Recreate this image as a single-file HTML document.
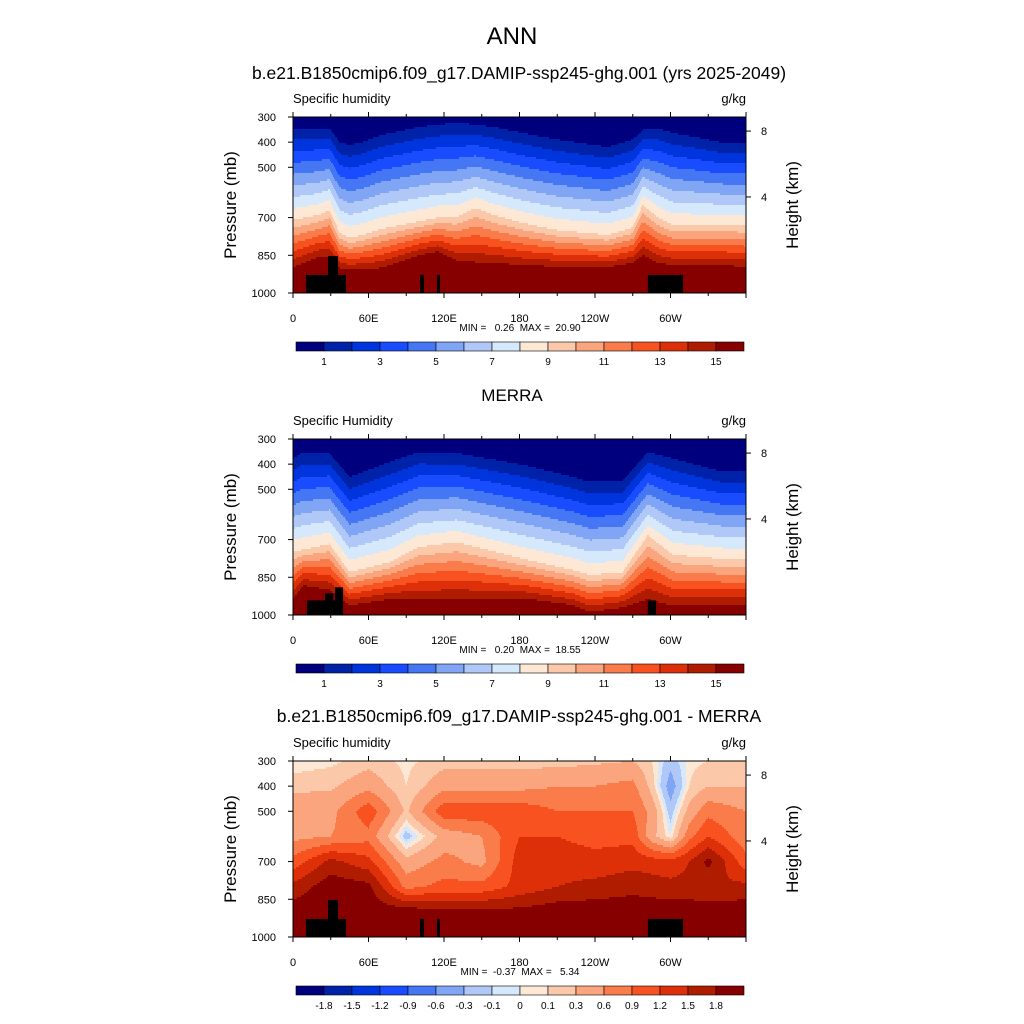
<!DOCTYPE html>
<html><head><meta charset="utf-8"><style>
html,body{margin:0;padding:0;background:#fff}
svg{display:block;font-family:"Liberation Sans",Arial,sans-serif}
</style></head><body>
<svg id="chart" width="1024" height="1024" viewBox="0 0 1024 1024">
<text x="512" y="44" text-anchor="middle" font-size="24">ANN</text>
<text x="519" y="79" text-anchor="middle" font-size="17.5">b.e21.B1850cmip6.f09_g17.DAMIP-ssp245-ghg.001 (yrs 2025-2049)</text>
<text x="512" y="401" text-anchor="middle" font-size="17">MERRA</text>
<text x="519" y="722" text-anchor="middle" font-size="17.5">b.e21.B1850cmip6.f09_g17.DAMIP-ssp245-ghg.001 - MERRA</text>
</svg>
<script>
// ---- data ----
const palette = ['#00007f','#0022a8','#0034dc','#1a4cff','#4577f5','#80a5f5','#b0c8f8','#d6e8fb','#fde8d6','#fcc8aa','#fba57e','#fa7c4a','#f85220','#de3008','#b01c00','#860000'];
const levelsQ = [1,2,3,4,5,6,7,8,9,10,11,12,13,14,15];
const levelsD = [-1.8,-1.5,-1.2,-0.9,-0.6,-0.3,-0.1,0,0.1,0.3,0.6,0.9,1.2,1.5,1.8];
const cbLabelsQ = ['','1','','3','','5','','7','','9','','11','','13','','15',''];
const cbLabelsD = ['-1.8','-1.5','-1.2','-0.9','-0.6','-0.3','-0.1','0','0.1','0.3','0.6','0.9','1.2','1.5','1.8'];
const xTickLons = [0,60,120,180,240,300];
const xTickLabels = ['0','60E','120E','180','120W','60W'];
const yTickP = [300,400,500,700,850,1000];
const heightTicks = [8,4];
const heightTickP = [356,618];

// panel 1 (model) contour anchors: pressure of q=1, q=9, q=15 contours
const lon1 = [0,20,29,37,45,55,70,100,115,130,145,160,183,210,250,270,278,290,302,320,342,360];
const p1_1 = [344,344,344,400,411,400,372,340,330,324,330,340,364,390,419,390,352,345,364,380,403,403];
const p9_1 = [710,690,670,760,781,770,745,715,700,698,662,690,722,750,769,740,650,700,730,730,730,730];
const p15_1 = [897,857,857,900,908,905,900,850,835,870,877,880,889,895,897,880,849,880,889,889,889,897];
const topo1 = [[10.3,42.1,928],[27.8,35.8,853],[100.9,104.1,928],[114.4,116.8,928],[282,310,928]];

// panel 2 (MERRA)
const lon2 = [0,8,29,45,77,100,130,183,222,236,262,282,302,342,360];
const p1_2 = [378,352,357,451,391,352,356,403,450,471,466,352,378,431,431];
const p9_2 = [749,740,717,829,789,730,710,777,820,841,829,683,761,777,777];
const p15_2 = [937,882,900,961,937,937,937,933,960,988,970,937,964,961,961];
const topo2 = [[11,39,942],[25.5,31.9,914],[33.4,39.8,890],[282,288.5,942],[282,284.5,975]];

// panel 3 (difference) grid
const lon3 = [0,30,60,90,120,150,180,210,240,270,285,300,315,330,360];
const pRows3 = [300,400,500,600,700,800,900,1000];
const diffCols = [
 [0.0,0.2,0.6,0.5,1.0,1.6,2.0,2.0],
 [0.05,0.25,0.5,0.6,1.6,2.0,2.0,2.0],
 [0.2,0.5,1.1,0.8,1.3,1.9,2.0,2.0],
 [0.05,0.1,0.25,-0.2,0.4,0.8,2.0,2.0],
 [0.2,0.5,1.1,0.4,0.7,1.0,1.9,2.0],
 [0.2,0.5,1.1,0.6,0.5,1.0,1.9,2.0],
 [0.2,0.5,1.1,1.2,1.35,1.3,1.9,2.0],
 [0.2,0.6,0.9,1.2,1.35,1.5,2.0,2.0],
 [0.25,0.6,0.9,1.1,1.3,1.6,2.0,2.0],
 [0.3,0.7,0.9,1.1,1.4,1.7,2.0,2.0],
 [0.1,0.2,0.5,0.4,1.35,1.65,2.0,2.0],
 [-0.2,-0.45,-0.2,0.0,1.3,1.6,2.0,2.0],
 [0.05,0.1,0.4,0.8,1.5,1.6,2.0,2.0],
 [0.1,0.3,0.8,1.2,1.9,1.5,2.0,2.0],
 [0.1,0.3,0.6,0.7,1.0,1.6,2.0,2.0]
];
const topo3 = topo1;

const panels = [
 {id:'panel1', top:117, kind:'q', lons:lon1, a:p1_1, b:p9_1, c:p15_1, topo:topo1, minmax:'MIN =   0.26  MAX =  20.90', cb:cbLabelsQ, levels:levelsQ},
 {id:'panel2', top:439, kind:'q', lons:lon2, a:p1_2, b:p9_2, c:p15_2, topo:topo2, minmax:'MIN =   0.20  MAX =  18.55', cb:cbLabelsQ, levels:levelsQ},
 {id:'panel3', top:761, kind:'d', topo:topo3, minmax:'MIN =  -0.37  MAX =   5.34', cb:cbLabelsD, levels:levelsD}
];

// ---- helpers ----
const NS='http://www.w3.org/2000/svg';
const svg=document.getElementById('chart');
const X0=293, X1=746, H=176;
function xOf(lon){return X0+lon/360*(X1-X0);}
function yOf(p,top){return top+(p-300)/700*H;}
function interp(xs,ys,x){
  if(x<=xs[0])return ys[0];
  for(let i=1;i<xs.length;i++){ if(x<=xs[i]){const t=(x-xs[i-1])/(xs[i]-xs[i-1]);return ys[i-1]+t*(ys[i]-ys[i-1]);} }
  return ys[ys.length-1];
}
function mk(tag,attrs,parent){const e=document.createElementNS(NS,tag);for(const k in attrs)e.setAttribute(k,attrs[k]);(parent||svg).appendChild(e);return e;}
function levelIndex(v,levels){let k=0;for(const l of levels){if(v>=l)k++;}return k;}
function qValue(P,lon,p){
  const a=interp(P.lons,P.a,lon), b=interp(P.lons,P.b,lon), c=interp(P.lons,P.c,lon);
  if(p<a) return (p-300)/Math.max(a-300,1);
  if(p<b) return 1+8*(p-a)/(b-a);
  if(p<c) return 9+6*(p-b)/(c-b);
  return 15+(p-c)/20;
}
function dValue(lon,p){
  const col=diffCols.map(c=>interp(pRows3,c,p));
  return interp(lon3,col,lon);
}

panels.forEach((P,pi)=>{
  const g=mk('g',{});
  
  
  const rowH=2, colW=1;
  for(let y=P.top;y<P.top+H;y+=rowH){
    const p=300+(y+rowH/2-P.top)/H*700;
    let runStart=X0, runIdx=-1;
    for(let x=X0;x<=X1;x+=colW){
      let idx=-1;
      if(x<X1){
        const lon=(x+0.5-X0)/(X1-X0)*360;
        const v = P.kind==='q'? qValue(P,lon,p) : dValue(lon,p);
        idx=levelIndex(v,P.levels);
      }
      if(idx!==runIdx){
        if(runIdx>=0){
          const r=mk('rect',{x:runStart,y:y,width:x-runStart+0.4,height:rowH+0.4,fill:palette[runIdx]},g);
          
          
        }
        runStart=x; runIdx=idx;
      }
    }
  }
  P.topo.forEach(t=>{
    const r=mk('rect',{x:xOf(t[0]),y:yOf(t[2],P.top),width:xOf(t[1])-xOf(t[0]),height:P.top+H-yOf(t[2],P.top),fill:'#000'});
    
    
  });
  const fr=mk('rect',{x:X0,y:P.top,width:X1-X0,height:H,fill:'none',stroke:'#000','stroke-width':1});
  
  
  for(let lon=0;lon<=360;lon+=30){
    const x=xOf(lon), len=(lon%60===0)?5:3;
    mk('line',{x1:x,x2:x,y1:P.top+H,y2:P.top+H+len,stroke:'#000'});
    mk('line',{x1:x,x2:x,y1:P.top,y2:P.top-len,stroke:'#000'});
  }
  xTickLons.forEach((lon,i)=>{
    const t=mk('text',{x:xOf(lon),y:P.top+H+29,'text-anchor':'middle','font-size':11});
    t.textContent=xTickLabels[i];
    
    
  });
  yTickP.forEach(p=>{
    const y=yOf(p,P.top);
    mk('line',{x1:X0,x2:X0-5,y1:y,y2:y,stroke:'#000'});
    const t=mk('text',{x:276,y:y+4,'text-anchor':'end','font-size':11});
    t.textContent=String(p);
    
    
  });
  heightTicks.forEach((h,i)=>{
    const y=yOf(heightTickP[i],P.top);
    mk('line',{x1:X1,x2:X1+5,y1:y,y2:y,stroke:'#000'});
    const t=mk('text',{x:764,y:y+4,'text-anchor':'middle','font-size':11});
    t.textContent=String(h);
    
    
  });
  const yl=mk('text',{x:0,y:0,'text-anchor':'middle','font-size':17,transform:`translate(236,${P.top+88}) rotate(-90)`});
  yl.textContent='Pressure (mb)';
  
  
  const yr=mk('text',{x:0,y:0,'text-anchor':'middle','font-size':17,transform:`translate(798,${P.top+88}) rotate(-90)`});
  yr.textContent='Height (km)';
  
  
  const lt=mk('text',{x:293,y:P.top-14,'font-size':13});
  lt.textContent= pi===1?'Specific Humidity':'Specific humidity';
  
  
  const ut=mk('text',{x:746,y:P.top-14,'font-size':13,'text-anchor':'end'});
  ut.textContent='g/kg';
  
  
  const mm=mk('text',{x:520,y:P.top+H+38,'text-anchor':'middle','font-size':10});
  mm.setAttribute('style','white-space:pre');
  mm.textContent=P.minmax;
  
  
  const cy=P.top+225, cw=448/16;
  const cbg=mk('g',{});
  
  
  palette.forEach((c,i)=>{
    const r=mk('rect',{x:296+i*cw,y:cy,width:cw,height:9,fill:c,stroke:'#000','stroke-width':0.6},cbg);
    
    
  });
  P.levels.forEach((l,i)=>{
    const lab = P.kind==='q' ? (i%2===0?String(l):'') : cbLabelsD[i];
    if(!lab) return;
    const t=mk('text',{x:296+(i+1)*cw,y:cy+23,'text-anchor':'middle','font-size':10},cbg);
    t.textContent=lab;
    
    
  });
});
</script>
</body></html>
